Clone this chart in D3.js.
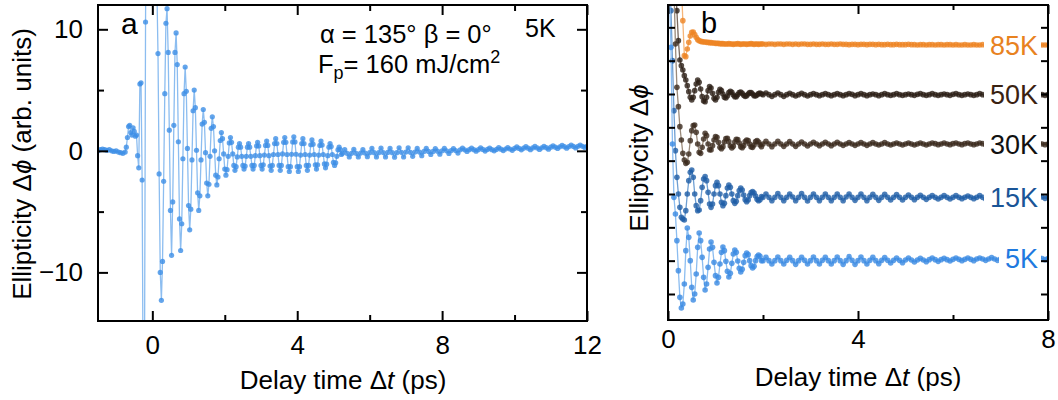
<!DOCTYPE html>
<html>
<head>
<meta charset="utf-8">
<script src="https://cdn.jsdelivr.net/npm/d3@7"></script>
<style>
  body { margin: 0; background: #fff; }
  svg { font-family: "Liberation Sans", Arial, Helvetica, sans-serif; }
</style>
</head>
<body>
<svg id="fig" width="1058" height="400"></svg>
<script>
// ---------------- data ----------------
// Panel a: ellipticity at 5 K (arb. units); three sampling segments
const aPre = [0.0, 0.1, 0.15, 0.1, 0.05, 0.1, 0.0, -0.05, 0.0, -0.1, -0.15, -0.2];
const aFine = [
  -0.1, 0.3, 1.1, 2.0, 2.1, 1.5, 1.3, 1.9, 1.6, 1.2,
  1.3, -0.4, -1.4, 5.5, 5.6, -2.4, -22, -20, 10.6, 30,
  45, 55, 60, 58, 50, 40, 30, 20, 13.5, 8.0,
  -1.9, -10.0, -12.3, -9.1, -2.5, 4.7, 10.5, 11.7, 8.1, 1.7,
  -4.9, -8.6, -4.2, 2.1, 8.1, 9.7, 7.1, 0.75, -5.6, -8.2,
  -6.0, -0.65, 4.7, 6.9, 4.9, 0.2, -4.5, -6.5, -4.8, -0.75,
  3.3, 5.0, 3.55, 0.05, -3.45, -4.9, -3.7, -0.75, 2.2, 3.4,
  2.35, -0.15, -2.65, -3.7, -2.75, -0.45, 1.85, 2.8, 2.0, 0,
  -2.0, -2.8, -2.15, -0.65, 0.85, 1.5, 1.0, -0.25, -1.5, -2.0,
  -1.55, -0.45, 0.65, 1.1, 0.7, -0.25, -1.2, -1.6, -1.3, -0.5,
  0.3, 0.6, 0.3, -0.45, -1.2, -1.5, -1.25, -0.45, 0.3, 0.6,
  0.3, -0.45, -1.2, -1.5, -1.2, -0.4, 0.4, 0.7, 0.4, -0.4,
  -1.2, -1.5, -1.15, -0.35, 0.45, 0.8, 0.45, -0.4, -1.25, -1.6,
  -1.2, -0.3, 0.6, 1.0, 0.6, -0.3, -1.2, -1.6, -1.2, -0.25,
  0.7, 1.1, 0.7, -0.3, -1.3, -1.7, -1.3, -0.28, 0.73, 1.15,
  0.73, -0.28, -1.3, -1.7, -1.3, -0.35, 0.6, 1.0, 0.6, -0.3,
  -1.2, -1.6, -1.2, -0.35, 0.5, 0.9, 0.55, -0.3, -1.15, -1.5,
  -1.15, -0.35, 0.45, 0.8, 0.48, -0.3, -1.08, -1.4, -1.1, -0.4,
  0.3, 0.6, 0.35, -0.3, -0.95, -1.2, -0.98, -0.45, 0.08, 0.3,
  0.1, -0.3
];
const aLate = [
  -0.2, 0.1, -0.2, -0.5, -0.2, 0.12, -0.2, -0.5, -0.18, 0.1, -0.18, -0.48,
  -0.15, 0.2, -0.15, -0.5, -0.15, 0.22, -0.14, -0.5, -0.13, 0.2, -0.15, -0.52,
  -0.15, 0.25, -0.12, -0.5, -0.1, 0.25, -0.12, -0.45, -0.1, 0.2, -0.1, -0.4,
  -0.05, 0.2, -0.05, -0.3, -0.05, 0.18, -0.03, -0.28, 0.0, 0.2, 0.0, -0.22, 0.02, 0.18, 0.02, -0.18,
  0.08, 0.22, 0.08, -0.05, 0.1, 0.22, 0.1, -0.03, 0.1, 0.25, 0.12, -0.02,
  0.12, 0.22, 0.1, 0.0, 0.12, 0.26, 0.14, 0.02, 0.15, 0.27, 0.15, 0.04,
  0.2, 0.32, 0.2, 0.08, 0.22, 0.34, 0.22, 0.1, 0.24, 0.36, 0.24, 0.12, 0.25, 0.38, 0.26, 0.14,
  0.3, 0.42, 0.3, 0.2, 0.33, 0.46, 0.34, 0.22, 0.35, 0.48, 0.36, 0.24, 0.37, 0.48, 0.38, 0.28, 0.38
];

// Panel b: temperature series, vertically offset (tick units)
const b5KFine = [
  9.5, 9.0, 7.4, 4.5, 2.9, 2.4, 1.6, 0.7, -0.1, -0.42,
  -0.3, 0.3, 1.3, 1.98, 1.7, 1.0, 0.2, -0.18, 0.0, 0.6,
  1.4, 1.83, 1.6, 1.1, 0.5, 0.12, 0.3, 0.8, 1.35, 1.56,
  1.4, 0.95, 0.55, 0.33, 0.5, 0.9, 1.25, 1.41, 1.3, 0.98,
  0.68, 0.51, 0.62, 0.92, 1.2, 1.32, 1.25, 0.99, 0.77, 0.66,
  0.74, 0.95, 1.15, 1.23, 1.18, 1.0, 0.85, 0.78, 0.83, 1.0,
  1.12, 1.17, 1.13, 1.0
];
const b5KLate = [
  1.0, 1.1, 1.0, 0.9, 1.0, 1.11, 1.0, 0.9, 1.01, 1.1, 1.0, 0.89,
  1.0, 1.1, 1.01, 0.9, 1.0, 1.11, 1.0, 0.9, 1.01, 1.1, 1.0, 0.9,
  1.0, 1.11, 1.0, 0.89, 1.0, 1.12, 1.01, 0.89, 1.0, 1.11, 1.0, 0.9,
  1.01, 1.1, 1.0, 0.91, 1.01, 1.09, 1.01, 0.93, 1.01, 1.08, 1.01, 0.94,
  1.02, 1.08, 1.02, 0.96, 1.02, 1.07, 1.02, 0.97, 1.03, 1.08, 1.03, 0.98, 1.03, 1.07, 1.03, 0.99,
  1.04, 1.08, 1.04, 1.0, 1.04, 1.08, 1.04, 1.0, 1.05, 1.08, 1.05, 1.01, 1.05, 1.09, 1.05, 1.01,
  1.05, 1.08, 1.05, 1.02, 1.05, 1.08, 1.05, 1.02, 1.06, 1.09, 1.06, 1.03, 1.06, 1.09, 1.06, 1.03,
  1.06
];
const b15KFine = [
  9.5, 9.5, 8.5, 7.0, 5.5, 4.3, 3.5, 3.0, 2.6, 2.3,
  2.25, 2.22, 2.5, 3.0, 3.4, 3.65, 3.72, 3.5, 3.0, 2.65,
  2.5, 2.52, 2.8, 3.2, 3.45, 3.52, 3.4, 3.05, 2.7, 2.6,
  2.7, 3.0, 3.25, 3.35, 3.25, 3.0, 2.75, 2.65, 2.72, 2.95,
  3.18, 3.27, 3.2, 3.0, 2.8, 2.72, 2.78, 2.95, 3.1, 3.18,
  3.12, 2.97, 2.83, 2.77, 2.82, 2.95, 3.04, 3.07, 3.03, 2.94,
  2.84, 2.8, 2.83, 2.92
];
const b15KLate = [
  2.9, 3.0, 2.9, 2.8, 2.9, 3.01, 2.9, 2.8, 2.9, 3.0, 2.91, 2.8,
  2.9, 3.01, 2.9, 2.79, 2.9, 3.0, 2.9, 2.8, 2.9, 3.0, 2.9, 2.8,
  2.9, 3.0, 2.9, 2.8, 2.91, 3.0, 2.9, 2.81, 2.9, 3.0, 2.9, 2.8, 2.9, 2.99, 2.9, 2.81,
  2.9, 2.99, 2.9, 2.82, 2.9, 2.98, 2.9, 2.82, 2.9, 2.97, 2.9, 2.83, 2.9, 2.96, 2.9, 2.84,
  2.9, 2.95, 2.9, 2.85, 2.9, 2.95, 2.9, 2.85, 2.9, 2.95, 2.9, 2.86, 2.9, 2.94, 2.9, 2.86,
  2.9, 2.95, 2.9, 2.85, 2.9, 2.94, 2.9, 2.86, 2.9, 2.94, 2.9, 2.86, 2.91, 2.95, 2.91, 2.87,
  2.91, 2.95, 2.91, 2.87, 2.91, 2.95, 2.91, 2.87, 2.91
];
const b30KFine = [
  9.5, 9.5, 9.5, 9.5, 9.2, 7.5, 6.2, 5.62, 5.02, 4.62,
  4.22, 4.02, 3.92, 3.95, 4.2, 4.6, 4.9, 5.05, 5.07, 4.85,
  4.5, 4.25, 4.22, 4.4, 4.65, 4.82, 4.75, 4.5, 4.33, 4.32,
  4.45, 4.62, 4.72, 4.7, 4.55, 4.4, 4.36, 4.42, 4.56, 4.66,
  4.67, 4.57, 4.44, 4.38, 4.43, 4.56, 4.64, 4.63, 4.53, 4.42,
  4.39, 4.45, 4.57, 4.62, 4.6, 4.5, 4.41, 4.4, 4.47, 4.57,
  4.6, 4.56, 4.47, 4.42
];
const b30KLate = [
  4.5, 4.58, 4.5, 4.42, 4.5, 4.58, 4.5, 4.43, 4.5, 4.57, 4.5, 4.43, 4.5, 4.56, 4.5, 4.44,
  4.5, 4.55, 4.5, 4.45, 4.5, 4.55, 4.5, 4.45, 4.5, 4.55, 4.5, 4.46, 4.5, 4.54, 4.5, 4.46,
  4.5, 4.54, 4.5, 4.46, 4.5, 4.54, 4.5, 4.47, 4.5, 4.54, 4.5, 4.47, 4.5, 4.53, 4.5, 4.47,
  4.5, 4.53, 4.5, 4.47, 4.5, 4.53, 4.5, 4.47, 4.5, 4.53, 4.51, 4.48, 4.5, 4.53, 4.5, 4.48,
  4.51, 4.53, 4.5, 4.48, 4.51, 4.53, 4.5, 4.48, 4.5, 4.53, 4.51, 4.48, 4.5, 4.52, 4.5, 4.48,
  4.51, 4.53, 4.5, 4.48, 4.51, 4.52, 4.5, 4.48, 4.5, 4.52, 4.51, 4.48, 4.5, 4.52, 4.5, 4.48,
  4.5
];
const b50KFine = [
  9.5, 9.5, 9.5, 9.5, 9.5, 9.3, 8.5, 7.6, 7.02, 6.85,
  6.72, 6.55, 6.42, 6.25, 6.07, 5.9, 5.82, 5.9, 6.1, 6.3,
  6.42, 6.35, 6.15, 5.92, 5.79, 5.77, 5.9, 6.1, 6.22, 6.18,
  6.02, 5.87, 5.82, 5.9, 6.05, 6.14, 6.1, 6.0, 5.9, 5.88,
  5.94, 6.04, 6.08, 6.05, 5.97, 5.92, 5.92, 5.98, 6.04, 6.06,
  6.02, 5.96, 5.93, 5.95, 6.0, 6.04, 6.04, 6.0, 5.95, 5.94,
  5.97, 6.01, 6.03, 6.0
];
const b50KLate = [
  5.98, 6.03, 5.98, 5.93, 5.98, 6.03, 5.98, 5.93,
  5.98, 6.02, 5.98, 5.94, 5.98, 6.02, 5.98, 5.94,
  5.98, 6.01, 5.98, 5.95, 5.98, 6.01, 5.98, 5.95,
  5.98, 6.01, 5.98, 5.95, 5.98, 6.01, 5.99, 5.95,
  5.98, 6.01, 5.98, 5.95, 5.98, 6.00, 5.98, 5.95,
  5.98, 6.01, 5.98, 5.96, 5.98, 6.01, 5.98, 5.96,
  5.98, 6.00, 5.98, 5.96, 5.99, 6.01, 5.98, 5.96,
  5.98, 6.01, 5.98, 5.96, 5.98, 6.00, 5.98, 5.96,
  5.99, 6.01, 5.98, 5.96, 5.98, 6.00, 5.98, 5.96,
  5.98, 6.01, 5.98, 5.96, 5.99, 6.00, 5.98, 5.96,
  5.98, 6.00, 5.98, 5.96, 5.98, 6.00, 5.99, 5.96,
  5.98, 6.00, 5.98, 5.96, 5.98, 6.00, 5.98, 5.96,
  5.98
];
const b85KFine = [
  9.5, 9.5, 9.5, 9.5, 9.5, 9.5, 9.5, 9.5, 9.5, 9.3,
  8.2, 7.15, 7.12, 7.35, 7.55, 7.74, 7.85, 7.86, 7.78, 7.7,
  7.63, 7.6, 7.58, 7.57, 7.56, 7.56, 7.55, 7.55, 7.54, 7.54,
  7.53, 7.53, 7.52, 7.52, 7.52, 7.51, 7.51, 7.51, 7.5, 7.5,
  7.5, 7.51, 7.5, 7.5, 7.49, 7.5, 7.5, 7.51, 7.5, 7.49,
  7.5, 7.5, 7.5, 7.49, 7.5, 7.5, 7.51, 7.5, 7.49, 7.5,
  7.5, 7.49, 7.5, 7.5
];
const b85KLate = [
  7.5, 7.49, 7.5, 7.5, 7.49, 7.5, 7.5, 7.49,
  7.5, 7.5, 7.49, 7.5, 7.49, 7.5, 7.5, 7.49,
  7.49, 7.5, 7.49, 7.49, 7.5, 7.49, 7.49, 7.5,
  7.49, 7.49, 7.5, 7.49, 7.49, 7.48, 7.49, 7.49,
  7.48, 7.49, 7.49, 7.48, 7.49, 7.49, 7.48, 7.49,
  7.48, 7.48, 7.49, 7.48, 7.48, 7.49, 7.48, 7.48,
  7.48, 7.49, 7.48, 7.48, 7.47, 7.48, 7.48, 7.47,
  7.48, 7.48, 7.47, 7.48, 7.48, 7.47, 7.48, 7.48,
  7.47, 7.48, 7.47, 7.47, 7.48, 7.47, 7.47, 7.48,
  7.47, 7.47, 7.48, 7.47, 7.47, 7.48, 7.47, 7.47,
  7.47, 7.48, 7.47, 7.47, 7.47, 7.48, 7.47, 7.47,
  7.47, 7.47, 7.48, 7.47, 7.47, 7.47, 7.47, 7.47,
  7.47
];

const tempLabels = ["5K", "15K", "30K", "50K", "85K"];

// axis ticks
const aXMajor = [0, 4, 8, 12], aXMinor = [2, 6, 10];
const aYMajor = [-10, 0, 10], aYMinor = [-5, 5];
const bXMajor = [0, 4, 8], bXMinor = [2, 6];
const bYTicks = [0, 1, 2, 3, 4, 5, 6, 7, 8];

// ---------------- helpers ----------------
const FINE = 1 / 32, COARSE = 1 / 16;
function buildPoints(segs) {
  const pts = [];
  segs.forEach(([t0, step, vals]) => vals.forEach((v, i) => pts.push([t0 + i * step, v])));
  return pts;
}

const svg = d3.select("#fig");
const FONT = 26;

function styleAxis(sel) {
  sel.select(".domain").remove();
  sel.selectAll(".tick line").attr("stroke", "#000").attr("stroke-width", 2);
  sel.selectAll(".tick text").attr("fill", "#000").attr("font-size", FONT)
    .attr("font-family", '"Liberation Sans", Arial, sans-serif');
  sel.attr("font-size", FONT).attr("font-family", null);
}

function frameAxes(g, x, y, cfg) {
  const [x0, x1] = x.range();
  const [y1, y0] = y.range();
  const fmt = d3.format("d");
  // bottom
  g.append("g").attr("transform", `translate(0,${y1})`)
    .call(d3.axisBottom(x).tickValues(cfg.xMajor).tickSize(-cfg.xMajLen).tickPadding(cfg.xPad).tickFormat(fmt))
    .call(styleAxis);
  g.append("g").attr("transform", `translate(0,${y1})`)
    .call(d3.axisBottom(x).tickValues(cfg.xMinor).tickSize(-cfg.xMinLen).tickFormat(""))
    .call(styleAxis);
  // top (mirror)
  g.append("g").attr("transform", `translate(0,${y0})`)
    .call(d3.axisTop(x).tickValues(cfg.xMajor).tickSize(-cfg.xMajLen).tickFormat(""))
    .call(styleAxis);
  g.append("g").attr("transform", `translate(0,${y0})`)
    .call(d3.axisTop(x).tickValues(cfg.xMinor).tickSize(-cfg.xMinLen).tickFormat(""))
    .call(styleAxis);
  // left
  g.append("g").attr("transform", `translate(${x0},0)`)
    .call(d3.axisLeft(y).tickValues(cfg.yMajor).tickSize(-cfg.yMajLen).tickPadding(cfg.yPad)
      .tickFormat(cfg.yLabels ? fmt : ""))
    .call(styleAxis);
  if (cfg.yMinor.length)
    g.append("g").attr("transform", `translate(${x0},0)`)
      .call(d3.axisLeft(y).tickValues(cfg.yMinor).tickSize(-cfg.yMinLen).tickFormat(""))
      .call(styleAxis);
  // right (mirror)
  g.append("g").attr("transform", `translate(${x1},0)`)
    .call(d3.axisRight(y).tickValues(cfg.yMajor).tickSize(-cfg.yMajLen).tickFormat(""))
    .call(styleAxis);
  if (cfg.yMinor.length)
    g.append("g").attr("transform", `translate(${x1},0)`)
      .call(d3.axisRight(y).tickValues(cfg.yMinor).tickSize(-cfg.yMinLen).tickFormat(""))
      .call(styleAxis);
  // frame
  g.append("rect").attr("x", x0).attr("y", y0).attr("width", x1 - x0).attr("height", y1 - y0)
    .attr("fill", "none").attr("stroke", "#000").attr("stroke-width", 2);
}

function drawSeries(g, pts, x, y, lineColor, dotColor, r) {
  const s = g.append("g");
  s.append("path").datum(pts)
    .attr("d", d3.line().x(d => x(d[0])).y(d => y(d[1])))
    .attr("fill", "none").attr("stroke", lineColor).attr("stroke-width", 1.3);
  s.selectAll("circle").data(pts).join("circle")
    .attr("cx", d => x(d[0])).attr("cy", d => y(d[1])).attr("r", r)
    .attr("fill", dotColor).attr("fill-opacity", 0.8);
}

function clipFor(id, x, y) {
  const [x0, x1] = x.range();
  const [y1, y0] = y.range();
  svg.append("clipPath").attr("id", id).append("rect")
    .attr("x", x0).attr("y", y0).attr("width", x1 - x0).attr("height", y1 - y0);
  return `url(#${id})`;
}

function delayLabel(x, y) {
  const t = svg.append("text").attr("x", x).attr("y", y).attr("text-anchor", "middle")
    .attr("font-size", FONT).attr("fill", "#000");
  t.append("tspan").text("Delay time \u0394");
  t.append("tspan").attr("font-style", "italic").text("t");
  t.append("tspan").text(" (ps)");
  return t;
}

// ---------------- panel a ----------------
const xA = d3.scaleLinear([-1.5, 12], [98, 587]);
const yA = d3.scaleLinear([-14, 12], [321, 5]);
const gA = svg.append("g");
const dataA = gA.append("g").attr("clip-path", clipFor("clipA", xA, yA));
drawSeries(dataA, buildPoints([[-1.5, COARSE, aPre], [-0.75, FINE, aFine], [5.25, COARSE, aLate]]),
  xA, yA, "#8cbdf0", "#3d8fe6", 2.6);
frameAxes(gA, xA, yA, {
  xMajor: aXMajor, xMinor: aXMinor, yMajor: aYMajor, yMinor: aYMinor,
  xMajLen: 10, xMinLen: 6, yMajLen: 10, yMinLen: 6, xPad: 15, yPad: 15, yLabels: true
});
delayLabel(343, 389);
{
  const t = svg.append("text").attr("transform", "translate(31,164) rotate(-90)")
    .attr("text-anchor", "middle").attr("font-size", FONT).attr("fill", "#000");
  t.append("tspan").text("Ellipticity \u0394");
  t.append("tspan").attr("font-style", "italic").text("\u03D5");
  t.append("tspan").text(" (arb. units)");
}
svg.append("text").attr("x", 121).attr("y", 34).attr("font-size", 30).text("a");
svg.append("text").attr("x", 320).attr("y", 43).attr("font-size", 25.5).text("\u03B1 = 135\u00B0 \u03B2 = 0\u00B0");
svg.append("text").attr("x", 525).attr("y", 37).attr("font-size", 25).text("5K");
{
  const t = svg.append("text").attr("x", 318).attr("y", 73).attr("font-size", 25.5);
  t.append("tspan").text("F");
  t.append("tspan").attr("font-size", 18).attr("dy", 6).text("p");
  t.append("tspan").attr("dy", -6).text("= 160 mJ/cm");
  t.append("tspan").attr("font-size", 18).attr("dy", -10).text("2");
}

// ---------------- panel b ----------------
const xB = d3.scaleLinear([0, 8], [668, 1048]);
const yB = d3.scaleLinear([-0.78, 8.67], [320, 5]);
const gB = svg.append("g");
const dataB = gB.append("g").attr("clip-path", clipFor("clipB", xB, yB));
const seriesB = [
  { label: tempLabels[4], fine: b85KFine, late: b85KLate, line: "#f5b57a", dot: "#ee8524", text: "#e8821f" },
  { label: tempLabels[3], fine: b50KFine, late: b50KLate, line: "#7a6a60", dot: "#2c1f17", text: "#3a2212" },
  { label: tempLabels[2], fine: b30KFine, late: b30KLate, line: "#9a8a7a", dot: "#3b2b1e", text: "#111111" },
  { label: tempLabels[1], fine: b15KFine, late: b15KLate, line: "#6f9fd2", dot: "#1f5ea6", text: "#1a5597" },
  { label: tempLabels[0], fine: b5KFine, late: b5KLate, line: "#8cbdf0", dot: "#3a8ae2", text: "#1f7ae0" }
];
seriesB.forEach(s => {
  s.pts = buildPoints([[0, FINE, s.fine], [2, COARSE, s.late]]);
  drawSeries(dataB, s.pts, xB, yB, s.line, s.dot, 2.8);
});
// temperature labels sit on a white box over the trace end
seriesB.forEach(s => {
  const last = s.pts[s.pts.length - 1][1];
  const g = gB.append("g");
  const bg = g.append("rect").attr("fill", "#fff");
  const t = g.append("text").attr("x", 1038).attr("y", yB(last)).attr("dy", "0.36em")
    .attr("text-anchor", "end").attr("font-size", 27).attr("fill", s.text).text(s.label);
  const bb = t.node().getBBox();
  bg.attr("x", bb.x - 6).attr("y", bb.y + 2).attr("width", bb.width + 9).attr("height", bb.height - 4);
});
frameAxes(gB, xB, yB, {
  xMajor: bXMajor, xMinor: bXMinor, yMajor: bYTicks, yMinor: [],
  xMajLen: 9, xMinLen: 5, yMajLen: 7, yMinLen: 0, xPad: 10, yPad: 6, yLabels: false
});
delayLabel(858, 386);
{
  const t = svg.append("text").attr("transform", "translate(648,158) rotate(-90)")
    .attr("text-anchor", "middle").attr("font-size", FONT).attr("fill", "#000");
  t.append("tspan").text("Elliptycity \u0394");
  t.append("tspan").attr("font-style", "italic").text("\u03D5");
}
svg.append("text").attr("x", 701).attr("y", 33).attr("font-size", 29).text("b");
</script>
</body>
</html>
